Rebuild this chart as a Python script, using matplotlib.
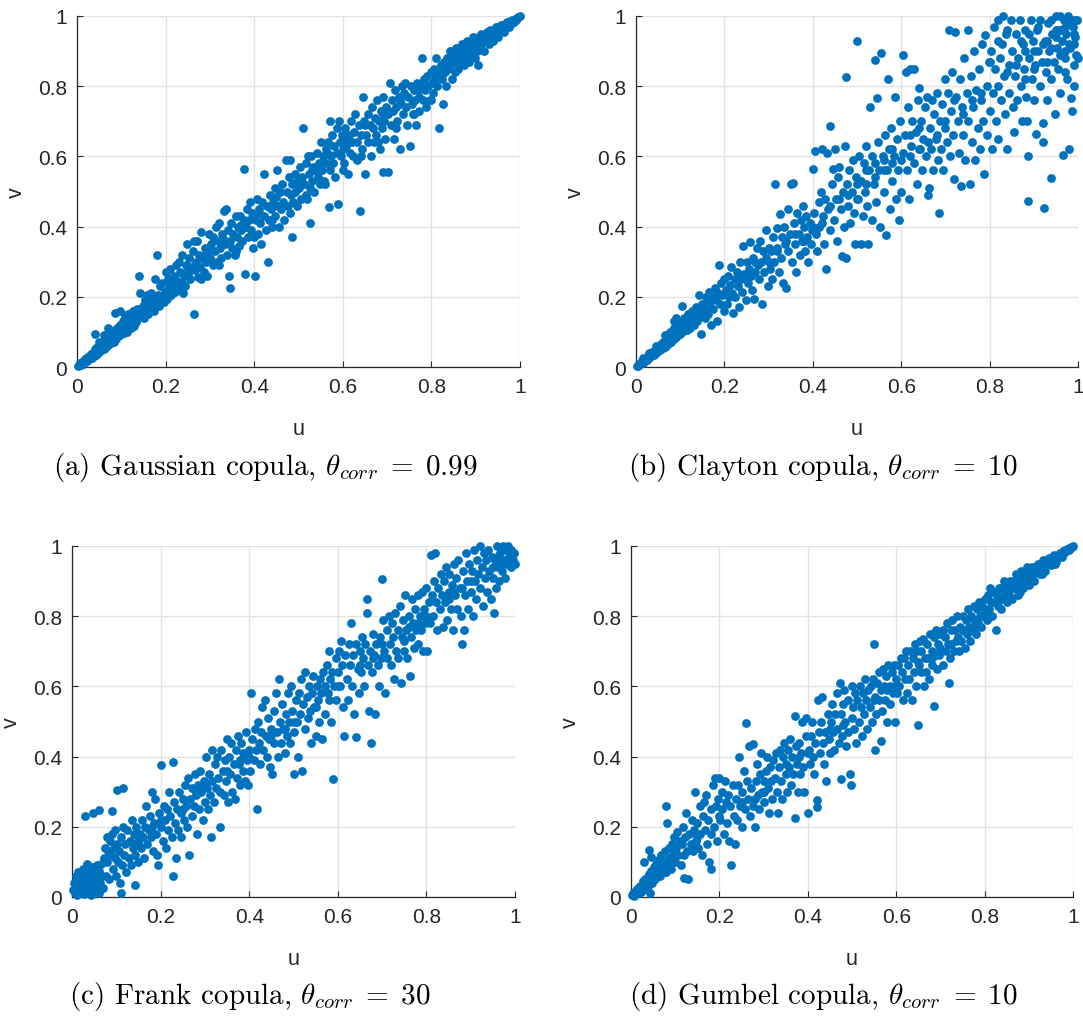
import numpy as np
import matplotlib
matplotlib.use('Agg')
import matplotlib.pyplot as plt

plt.rcParams['font.family'] = 'Liberation Sans'
plt.rcParams['mathtext.fontset'] = 'cm'

# (u, v) samples, one list per copula
gaussian_uv = [
    (0.003,0.004),(0.006,0.010),(0.008,0.005),(0.011,0.014),(0.013,0.009),(0.016,0.020),(0.018,0.013),(0.021,0.026),(0.023,0.017),(0.026,0.030),
    (0.028,0.022),(0.031,0.036),(0.033,0.025),(0.036,0.041),(0.038,0.030),(0.041,0.050),(0.043,0.035),(0.046,0.058),(0.048,0.040),(0.051,0.062),
    (0.053,0.046),(0.056,0.070),(0.058,0.050),(0.061,0.052),(0.063,0.075),(0.066,0.058),(0.068,0.083),(0.071,0.062),(0.073,0.090),(0.076,0.068),
    (0.078,0.078),(0.081,0.095),(0.083,0.072),(0.086,0.105),(0.088,0.080),(0.091,0.112),(0.093,0.088),(0.096,0.120),(0.098,0.092),(0.101,0.108),
    (0.040,0.095),(0.085,0.155),(0.097,0.160),(0.050,0.070),(0.070,0.110),(0.060,0.090),
    (0.103,0.130),(0.106,0.098),(0.108,0.145),(0.111,0.115),(0.113,0.100),(0.116,0.150),(0.118,0.125),(0.121,0.110),(0.123,0.138),(0.126,0.160),
    (0.128,0.118),(0.131,0.145),(0.133,0.128),(0.136,0.165),(0.138,0.140),(0.141,0.260),(0.143,0.210),(0.146,0.150),(0.148,0.175),(0.151,0.140),
    (0.153,0.190),(0.156,0.160),(0.158,0.205),(0.161,0.150),(0.163,0.180),(0.166,0.210),(0.168,0.170),(0.171,0.195),(0.173,0.160),(0.176,0.250),
    (0.178,0.185),(0.181,0.320),(0.183,0.205),(0.186,0.175),(0.188,0.230),(0.191,0.200),(0.193,0.240),(0.196,0.185),(0.198,0.215),(0.201,0.270),
    (0.203,0.195),(0.206,0.250),(0.208,0.225),(0.211,0.280),(0.213,0.205),(0.216,0.240),(0.218,0.260),(0.221,0.215),(0.223,0.290),(0.226,0.245),
    (0.228,0.225),(0.231,0.300),(0.233,0.270),(0.236,0.240),(0.238,0.320),(0.241,0.260),(0.243,0.230),(0.246,0.290),(0.248,0.350),(0.251,0.265),
    (0.253,0.310),(0.256,0.250),(0.258,0.285),(0.261,0.330),(0.263,0.360),(0.265,0.150),(0.266,0.275),(0.268,0.300),(0.271,0.360),(0.273,0.255),
    (0.276,0.320),(0.278,0.285),(0.281,0.385),(0.283,0.310),(0.286,0.270),(0.288,0.340),(0.291,0.300),(0.293,0.260),(0.296,0.330),(0.298,0.380),
    (0.301,0.310),(0.303,0.350),(0.306,0.290),(0.308,0.370),(0.311,0.330),(0.313,0.400),(0.316,0.300),(0.318,0.360),(0.321,0.410),(0.323,0.340),
    (0.326,0.310),(0.328,0.380),(0.331,0.445),(0.333,0.350),(0.336,0.450),(0.338,0.320),(0.341,0.390),(0.343,0.260),(0.345,0.225),(0.346,0.360),
    (0.348,0.410),(0.351,0.340),(0.353,0.380),(0.356,0.320),(0.358,0.430),(0.361,0.370),(0.363,0.400),(0.366,0.345),(0.368,0.430),(0.371,0.390),
    (0.373,0.360),(0.376,0.420),(0.378,0.565),(0.380,0.265),(0.381,0.400),(0.383,0.450),(0.386,0.370),(0.388,0.420),(0.391,0.470),(0.393,0.390),
    (0.396,0.440),(0.398,0.340),(0.401,0.260),(0.403,0.420),(0.406,0.480),(0.408,0.380),(0.411,0.450),(0.413,0.410),(0.416,0.350),(0.418,0.470),
    (0.421,0.430),(0.423,0.550),(0.426,0.390),(0.428,0.460),(0.431,0.300),(0.433,0.420),(0.436,0.490),(0.438,0.450),(0.441,0.400),(0.443,0.470),
    (0.446,0.510),(0.448,0.430),(0.451,0.560),(0.453,0.460),(0.456,0.400),(0.458,0.500),(0.461,0.450),(0.463,0.520),(0.466,0.470),(0.468,0.420),
    (0.471,0.590),(0.473,0.500),(0.476,0.460),(0.478,0.540),(0.481,0.590),(0.483,0.490),(0.485,0.370),(0.486,0.520),(0.488,0.470),(0.491,0.550),
    (0.493,0.500),(0.496,0.460),(0.498,0.530),(0.501,0.510),(0.503,0.570),(0.506,0.480),(0.508,0.540),(0.511,0.680),(0.513,0.520),(0.516,0.580),
    (0.518,0.490),(0.521,0.600),(0.523,0.550),(0.525,0.410),(0.526,0.510),(0.528,0.600),(0.531,0.530),(0.533,0.570),(0.536,0.500),(0.538,0.560),
    (0.541,0.610),(0.543,0.540),(0.546,0.580),(0.548,0.520),(0.551,0.640),(0.553,0.560),(0.556,0.600),(0.558,0.530),(0.561,0.620),(0.563,0.580),
    (0.566,0.640),(0.568,0.455),(0.570,0.700),(0.571,0.560),(0.573,0.600),(0.576,0.660),(0.578,0.580),(0.581,0.630),(0.583,0.540),(0.586,0.680),
    (0.588,0.610),(0.590,0.465),(0.591,0.700),(0.593,0.640),(0.596,0.600),(0.598,0.660),(0.601,0.620),(0.603,0.580),(0.606,0.680),(0.608,0.630),
    (0.611,0.550),(0.613,0.660),(0.616,0.610),(0.618,0.700),(0.621,0.640),(0.623,0.600),(0.626,0.670),(0.628,0.720),(0.631,0.640),(0.633,0.590),
    (0.636,0.690),(0.638,0.445),(0.641,0.660),(0.643,0.620),(0.646,0.770),(0.648,0.700),(0.651,0.550),(0.653,0.660),(0.656,0.720),(0.658,0.640),
    (0.661,0.690),(0.663,0.600),(0.666,0.740),(0.668,0.680),(0.671,0.640),(0.673,0.710),(0.676,0.660),(0.678,0.760),(0.681,0.700),(0.683,0.620),
    (0.686,0.730),(0.688,0.680),(0.690,0.555),(0.691,0.770),(0.693,0.700),(0.696,0.650),(0.698,0.740),(0.701,0.555),(0.703,0.720),(0.706,0.810),
    (0.708,0.690),(0.711,0.760),(0.713,0.730),(0.716,0.650),(0.718,0.790),(0.721,0.740),(0.723,0.700),(0.726,0.770),(0.728,0.620),(0.731,0.750),
    (0.733,0.800),(0.736,0.720),(0.738,0.780),(0.741,0.810),(0.743,0.740),(0.746,0.690),(0.748,0.770),(0.751,0.630),(0.753,0.800),(0.756,0.750),
    (0.758,0.720),(0.761,0.790),(0.763,0.760),(0.766,0.690),(0.768,0.810),(0.771,0.770),(0.773,0.730),(0.776,0.800),(0.778,0.880),(0.781,0.760),
    (0.783,0.820),(0.786,0.790),(0.788,0.740),(0.791,0.830),(0.793,0.800),(0.796,0.760),(0.798,0.840),(0.801,0.810),(0.803,0.780),(0.806,0.850),
    (0.808,0.820),(0.811,0.880),(0.813,0.800),(0.816,0.840),(0.818,0.680),(0.821,0.860),(0.823,0.820),(0.826,0.750),(0.828,0.870),(0.831,0.840),
    (0.833,0.800),(0.836,0.880),(0.838,0.850),(0.841,0.900),(0.843,0.860),(0.846,0.820),(0.848,0.890),(0.851,0.870),(0.853,0.840),(0.856,0.910),
    (0.858,0.880),(0.861,0.850),(0.863,0.900),(0.866,0.870),(0.868,0.920),(0.871,0.890),(0.873,0.860),(0.876,0.910),(0.878,0.880),(0.881,0.930),
    (0.883,0.900),(0.886,0.870),(0.888,0.920),(0.891,0.890),(0.893,0.940),(0.896,0.910),(0.898,0.880),(0.901,0.930),(0.903,0.900),(0.906,0.860),
    (0.908,0.940),(0.911,0.920),(0.913,0.950),(0.916,0.930),(0.918,0.900),(0.921,0.945),(0.923,0.930),(0.926,0.955),(0.928,0.935),(0.931,0.920),
    (0.933,0.960),(0.936,0.945),(0.938,0.930),(0.941,0.960),(0.943,0.950),(0.946,0.970),(0.948,0.950),(0.951,0.940),(0.953,0.970),(0.956,0.960),
    (0.958,0.975),(0.961,0.965),(0.963,0.955),(0.966,0.978),(0.968,0.970),(0.971,0.982),(0.973,0.975),(0.976,0.968),(0.978,0.985),(0.981,0.980),
    (0.983,0.988),(0.986,0.984),(0.988,0.992),(0.991,0.990),(0.993,0.994),(0.996,0.996),(0.999,0.999),
    (0.210,0.235),(0.250,0.275),(0.290,0.320),(0.330,0.365),(0.370,0.405),(0.410,0.440),(0.450,0.485),(0.490,0.525),(0.530,0.560),(0.570,0.605),
    (0.610,0.650),(0.650,0.690),(0.690,0.720),(0.730,0.760),(0.770,0.790),(0.240,0.210),(0.280,0.250),(0.320,0.290),(0.360,0.330),(0.400,0.370),
    (0.440,0.420),(0.480,0.440),(0.520,0.480),(0.560,0.520),(0.600,0.560),(0.640,0.600),(0.680,0.640),(0.720,0.680),(0.760,0.720),(0.800,0.760),
]

clayton_uv = [
    (0.002,0.003),(0.005,0.004),(0.007,0.009),(0.010,0.008),(0.012,0.014),(0.015,0.012),(0.017,0.020),(0.020,0.017),(0.022,0.026),(0.025,0.021),
    (0.027,0.030),(0.030,0.026),(0.032,0.036),(0.035,0.030),(0.037,0.043),(0.040,0.034),(0.042,0.048),(0.045,0.040),(0.047,0.055),(0.050,0.045),
    (0.052,0.060),(0.055,0.048),(0.057,0.066),(0.060,0.053),(0.062,0.072),(0.065,0.058),(0.067,0.080),(0.070,0.062),(0.072,0.090),(0.075,0.068),
    (0.077,0.100),(0.080,0.072),(0.082,0.092),(0.085,0.080),(0.087,0.110),(0.090,0.085),(0.092,0.125),(0.095,0.090),(0.097,0.105),(0.100,0.095),
    (0.105,0.175),(0.090,0.140),(0.085,0.130),(0.065,0.090),(0.045,0.060),(0.030,0.040),(0.015,0.025),
    (0.102,0.120),(0.105,0.100),(0.108,0.140),(0.110,0.115),(0.113,0.130),(0.116,0.105),(0.118,0.150),(0.121,0.125),(0.123,0.110),(0.126,0.160),
    (0.128,0.135),(0.131,0.120),(0.133,0.150),(0.136,0.170),(0.138,0.130),(0.141,0.160),(0.143,0.205),(0.146,0.145),(0.148,0.095),(0.150,0.180),
    (0.153,0.160),(0.155,0.140),(0.158,0.200),(0.160,0.170),(0.163,0.150),(0.165,0.215),(0.168,0.185),(0.170,0.120),(0.173,0.200),(0.175,0.165),
    (0.178,0.225),(0.180,0.190),(0.183,0.130),(0.185,0.210),(0.188,0.290),(0.190,0.180),(0.193,0.240),(0.195,0.205),(0.198,0.160),(0.200,0.250),
    (0.203,0.220),(0.205,0.180),(0.208,0.260),(0.210,0.200),(0.213,0.235),(0.215,0.285),(0.218,0.210),(0.220,0.155),(0.223,0.250),(0.225,0.200),
    (0.228,0.270),(0.230,0.230),(0.233,0.170),(0.235,0.300),(0.238,0.250),(0.240,0.215),(0.243,0.345),(0.245,0.265),(0.248,0.190),(0.250,0.300),
    (0.253,0.240),(0.255,0.280),(0.258,0.355),(0.260,0.260),(0.263,0.220),(0.265,0.310),(0.268,0.195),(0.270,0.270),(0.273,0.340),(0.275,0.290),
    (0.278,0.250),(0.280,0.360),(0.283,0.300),(0.285,0.180),(0.288,0.330),(0.290,0.270),(0.293,0.390),(0.295,0.310),(0.298,0.230),(0.300,0.340),
    (0.303,0.280),(0.305,0.330),(0.308,0.250),(0.310,0.370),(0.313,0.300),(0.315,0.520),(0.318,0.395),(0.320,0.340),(0.323,0.270),(0.325,0.435),
    (0.328,0.310),(0.330,0.370),(0.333,0.240),(0.335,0.400),(0.338,0.350),(0.340,0.225),(0.343,0.450),(0.345,0.330),(0.348,0.380),(0.350,0.520),
    (0.353,0.300),(0.355,0.525),(0.358,0.410),(0.360,0.350),(0.363,0.270),(0.365,0.440),(0.368,0.380),(0.370,0.320),(0.373,0.420),(0.375,0.360),
    (0.378,0.460),(0.380,0.400),(0.383,0.330),(0.385,0.430),(0.388,0.370),(0.390,0.300),(0.393,0.410),(0.395,0.350),(0.398,0.390),(0.400,0.565),
    (0.403,0.440),(0.405,0.614),(0.408,0.380),(0.410,0.330),(0.413,0.470),(0.415,0.400),(0.418,0.500),(0.420,0.620),(0.423,0.430),(0.425,0.350),
    (0.428,0.480),(0.430,0.278),(0.432,0.610),(0.435,0.450),(0.438,0.390),(0.440,0.688),(0.443,0.520),(0.445,0.565),(0.448,0.420),(0.450,0.620),
    (0.453,0.480),(0.455,0.360),(0.458,0.540),(0.460,0.570),(0.463,0.450),(0.465,0.315),(0.468,0.500),(0.470,0.400),(0.473,0.630),(0.475,0.827),
    (0.476,0.310),(0.478,0.520),(0.480,0.460),(0.483,0.560),(0.485,0.410),(0.488,0.500),(0.490,0.590),(0.493,0.440),(0.495,0.350),(0.498,0.540),
    (0.501,0.928),(0.503,0.480),(0.505,0.600),(0.508,0.350),(0.510,0.530),(0.513,0.430),(0.515,0.580),(0.518,0.500),(0.520,0.630),(0.523,0.460),
    (0.525,0.350),(0.528,0.560),(0.530,0.740),(0.533,0.420),(0.535,0.600),(0.538,0.520),(0.540,0.875),(0.543,0.470),(0.545,0.765),(0.548,0.640),
    (0.550,0.560),(0.553,0.400),(0.555,0.895),(0.558,0.600),(0.560,0.500),(0.563,0.660),(0.565,0.375),(0.568,0.560),(0.570,0.820),(0.573,0.620),
    (0.575,0.450),(0.578,0.680),(0.580,0.530),(0.583,0.600),(0.585,0.770),(0.588,0.480),(0.590,0.650),(0.593,0.560),(0.595,0.420),(0.598,0.700),
    (0.600,0.500),(0.603,0.610),(0.605,0.890),(0.608,0.660),(0.610,0.840),(0.613,0.560),(0.615,0.740),(0.618,0.480),(0.620,0.850),(0.623,0.630),
    (0.625,0.700),(0.628,0.580),(0.630,0.850),(0.633,0.670),(0.635,0.520),(0.638,0.760),(0.640,0.795),(0.643,0.620),(0.645,0.700),(0.648,0.560),
    (0.650,0.650),(0.653,0.740),(0.655,0.600),(0.658,0.770),(0.660,0.490),(0.662,0.510),(0.665,0.680),(0.668,0.620),(0.670,0.760),(0.673,0.560),
    (0.675,0.720),(0.678,0.650),(0.680,0.780),(0.683,0.590),(0.685,0.440),(0.688,0.700),(0.690,0.620),(0.693,0.750),(0.695,0.560),(0.698,0.680),
    (0.700,0.820),(0.703,0.640),(0.705,0.780),(0.708,0.960),(0.710,0.600),(0.713,0.730),(0.715,0.840),(0.718,0.660),(0.720,0.535),(0.722,0.955),
    (0.725,0.770),(0.728,0.700),(0.730,0.610),(0.733,0.820),(0.735,0.515),(0.738,0.740),(0.740,0.660),(0.743,0.880),(0.745,0.590),(0.748,0.780),
    (0.750,0.700),(0.752,0.960),(0.755,0.520),(0.758,0.830),(0.760,0.640),(0.763,0.740),(0.765,0.900),(0.768,0.590),(0.770,0.790),(0.773,0.680),
    (0.775,0.850),(0.778,0.620),(0.780,0.760),(0.783,0.920),(0.785,0.700),(0.788,0.550),(0.790,0.945),(0.793,0.800),(0.795,0.660),(0.798,0.870),
    (0.800,0.730),(0.803,0.900),(0.805,0.620),(0.808,0.780),(0.810,0.970),(0.813,0.850),(0.815,0.700),(0.818,0.990),(0.820,0.650),(0.823,0.880),
    (0.825,0.760),(0.828,0.920),(0.830,1.000),(0.833,0.830),(0.835,0.720),(0.838,0.950),(0.840,0.620),(0.843,0.860),(0.845,0.780),(0.848,0.990),
    (0.850,0.900),(0.853,0.740),(0.855,0.670),(0.858,0.830),(0.860,0.950),(0.863,0.760),(0.865,0.880),(0.868,0.990),(0.870,0.800),(0.873,0.700),
    (0.875,0.920),(0.878,0.850),(0.880,0.960),(0.883,0.770),(0.885,0.700),(0.886,0.600),(0.888,0.472),(0.890,0.880),(0.893,0.990),(0.895,0.820),
    (0.898,0.930),(0.900,0.760),(0.903,0.860),(0.905,0.665),(0.908,0.960),(0.910,0.900),(0.913,0.800),(0.915,0.990),(0.918,0.870),(0.920,0.695),
    (0.921,0.640),(0.923,0.453),(0.925,0.930),(0.928,0.840),(0.930,0.760),(0.933,0.980),(0.935,0.900),(0.938,0.820),(0.940,0.538),(0.942,0.950),
    (0.945,0.870),(0.948,0.720),(0.950,1.000),(0.953,0.910),(0.955,0.850),(0.958,0.960),(0.960,0.780),(0.963,0.930),(0.965,0.605),(0.968,0.990),
    (0.970,0.880),(0.973,0.950),(0.975,0.820),(0.978,1.000),(0.980,0.620),(0.982,0.910),(0.985,0.765),(0.986,0.730),(0.988,0.970),(0.990,0.860),
    (0.993,0.940),(0.995,0.890),(0.998,0.990),
    (0.870,0.930),(0.890,0.950),(0.910,0.970),(0.930,0.930),(0.950,0.960),(0.970,0.970),(0.990,0.950),(0.960,0.890),(0.980,0.920),(0.920,0.920),
    (0.940,0.990),(0.860,0.860),(0.840,0.840),(0.820,0.800),(0.880,0.820),(0.900,0.850),(0.970,0.840),(0.990,0.800),(1.000,0.880),(0.960,1.000),
    (0.840,0.960),(0.820,0.930),(0.800,0.870),(0.780,0.780),(0.760,0.760),(0.740,0.720),(0.720,0.760),(0.700,0.700),(0.680,0.660),(0.660,0.640),
    (0.640,0.620),(0.620,0.600),(0.580,0.580),(0.560,0.560),(0.540,0.540),(0.520,0.520),(0.500,0.480),
    (0.250,0.250),(0.270,0.300),(0.300,0.300),(0.320,0.330),(0.340,0.360),(0.360,0.380),(0.380,0.360),(0.400,0.400),(0.420,0.410),(0.440,0.460),
    (0.460,0.480),(0.480,0.490),(0.500,0.520),(0.520,0.560),(0.540,0.580),(0.560,0.590),(0.580,0.620),(0.600,0.590),(0.620,0.660),(0.640,0.680),
    (0.950,0.940),(0.960,0.960),(0.980,0.980),(0.990,0.990),(0.940,0.910),(0.900,0.900),(0.880,0.900),(0.930,0.870),(0.970,0.900),(0.990,0.920),
]

frank_uv = [
    (0.002,0.020),(0.004,0.040),(0.006,0.010),(0.008,0.060),(0.010,0.030),(0.012,0.005),(0.014,0.070),(0.016,0.045),(0.018,0.015),(0.020,0.055),
    (0.022,0.025),(0.024,0.080),(0.026,0.040),(0.028,0.008),(0.030,0.060),(0.032,0.030),(0.034,0.095),(0.036,0.050),(0.038,0.015),(0.040,0.070),
    (0.042,0.035),(0.044,0.005),(0.046,0.085),(0.048,0.045),(0.050,0.020),(0.052,0.065),(0.054,0.030),(0.056,0.090),(0.058,0.050),(0.060,0.010),
    (0.062,0.075),(0.064,0.040),(0.066,0.095),(0.068,0.060),(0.070,0.025),(0.030,0.230),(0.047,0.240),(0.060,0.248),(0.090,0.245),(0.101,0.305),
    (0.115,0.310),(0.110,0.010),(0.142,0.035),
    (0.072,0.110),(0.074,0.140),(0.076,0.060),(0.078,0.170),(0.080,0.100),(0.082,0.130),(0.084,0.050),(0.086,0.160),(0.088,0.120),(0.090,0.180),
    (0.092,0.080),(0.094,0.140),(0.096,0.110),(0.098,0.190),(0.100,0.060),(0.102,0.150),(0.104,0.100),(0.106,0.130),(0.108,0.040),(0.110,0.170),
    (0.112,0.090),(0.115,0.200),(0.118,0.120),(0.120,0.150),(0.122,0.070),(0.125,0.190),(0.128,0.110),(0.130,0.160),(0.133,0.090),(0.135,0.220),
    (0.138,0.140),(0.140,0.180),(0.143,0.120),(0.145,0.200),(0.148,0.150),(0.150,0.100),(0.153,0.180),(0.155,0.140),(0.158,0.220),(0.160,0.170),
    (0.163,0.110),(0.165,0.200),(0.168,0.260),(0.170,0.150),(0.173,0.190),(0.175,0.230),(0.178,0.170),(0.180,0.300),(0.183,0.130),(0.185,0.210),
    (0.188,0.280),(0.190,0.180),(0.193,0.120),(0.195,0.090),(0.197,0.240),(0.200,0.375),
    (0.202,0.200),(0.205,0.160),(0.207,0.260),(0.210,0.220),(0.212,0.140),(0.215,0.250),(0.217,0.190),(0.220,0.300),(0.222,0.230),(0.225,0.170),
    (0.228,0.385),(0.229,0.060),(0.230,0.270),(0.232,0.210),(0.235,0.110),(0.237,0.250),(0.240,0.190),(0.242,0.300),(0.245,0.240),(0.247,0.170),
    (0.250,0.280),(0.252,0.220),(0.255,0.320),(0.257,0.260),(0.260,0.200),(0.262,0.340),(0.265,0.120),(0.267,0.280),(0.270,0.230),(0.272,0.310),
    (0.275,0.260),(0.277,0.350),(0.280,0.290),(0.282,0.180),(0.285,0.320),(0.287,0.250),(0.290,0.360),(0.292,0.300),(0.295,0.220),(0.297,0.330),
    (0.300,0.270),(0.302,0.400),(0.305,0.310),(0.307,0.250),(0.310,0.350),(0.312,0.290),(0.314,0.170),(0.315,0.420),(0.317,0.330),(0.320,0.270),
    (0.322,0.380),(0.325,0.310),(0.327,0.400),(0.330,0.340),(0.333,0.200),(0.335,0.300),(0.337,0.420),(0.340,0.360),(0.342,0.290),(0.345,0.390),
    (0.347,0.330),(0.350,0.450),(0.352,0.270),(0.355,0.400),(0.357,0.350),(0.360,0.440),(0.362,0.300),(0.365,0.380),(0.367,0.280),(0.370,0.420),
    (0.372,0.340),(0.375,0.460),(0.377,0.380),(0.380,0.320),(0.382,0.440),(0.385,0.360),(0.387,0.410),(0.390,0.330),(0.392,0.470),(0.395,0.390),
    (0.397,0.320),(0.400,0.420),(0.402,0.360),(0.405,0.580),(0.407,0.450),(0.410,0.390),(0.412,0.480),(0.415,0.420),(0.418,0.250),(0.420,0.500),
    (0.422,0.440),(0.425,0.380),(0.427,0.470),(0.430,0.540),(0.432,0.420),(0.435,0.560),(0.437,0.460),(0.440,0.400),(0.442,0.510),(0.445,0.450),
    (0.447,0.370),(0.450,0.480),(0.452,0.350),(0.455,0.530),(0.457,0.440),(0.460,0.580),(0.462,0.470),(0.465,0.400),(0.467,0.620),(0.470,0.500),
    (0.472,0.440),(0.475,0.550),(0.477,0.480),(0.480,0.410),(0.482,0.520),(0.485,0.460),(0.487,0.580),(0.490,0.500),(0.492,0.440),(0.495,0.600),
    (0.497,0.530),(0.500,0.350),(0.502,0.470),(0.505,0.560),(0.507,0.500),(0.510,0.400),(0.512,0.580),(0.515,0.520),(0.518,0.620),(0.520,0.360),
    (0.522,0.550),(0.525,0.480),(0.527,0.640),(0.530,0.570),(0.532,0.510),(0.535,0.600),(0.537,0.530),(0.540,0.440),(0.542,0.580),(0.545,0.630),
    (0.547,0.540),(0.550,0.460),(0.552,0.600),(0.555,0.560),(0.557,0.500),(0.560,0.620),(0.562,0.580),(0.565,0.450),(0.567,0.640),(0.570,0.600),
    (0.572,0.520),(0.575,0.660),(0.577,0.580),(0.580,0.700),(0.582,0.620),(0.585,0.500),(0.587,0.640),(0.590,0.335),(0.592,0.600),(0.595,0.680),
    (0.597,0.560),(0.600,0.640),(0.602,0.700),(0.605,0.600),(0.607,0.730),(0.610,0.660),(0.612,0.540),(0.615,0.460),(0.617,0.690),(0.620,0.620),
    (0.622,0.560),(0.625,0.720),(0.627,0.660),(0.630,0.780),(0.632,0.600),(0.635,0.690),(0.637,0.520),(0.640,0.455),(0.642,0.720),(0.645,0.650),
    (0.647,0.580),(0.650,0.700),(0.652,0.640),(0.655,0.740),(0.657,0.680),(0.660,0.600),(0.662,0.720),(0.665,0.850),(0.666,0.810),(0.668,0.660),
    (0.670,0.530),(0.672,0.700),(0.675,0.440),(0.677,0.640),(0.680,0.750),(0.682,0.690),(0.685,0.520),(0.687,0.720),(0.690,0.660),(0.692,0.600),
    (0.695,0.740),(0.697,0.680),(0.700,0.905),(0.702,0.790),(0.705,0.700),(0.707,0.580),(0.710,0.760),(0.712,0.680),(0.715,0.800),(0.717,0.720),
    (0.720,0.660),(0.722,0.780),(0.725,0.740),(0.727,0.620),(0.730,0.810),(0.732,0.700),(0.735,0.760),(0.737,0.680),(0.740,0.830),(0.742,0.610),
    (0.745,0.740),(0.747,0.790),(0.750,0.700),(0.752,0.860),(0.755,0.760),(0.757,0.680),(0.760,0.800),(0.762,0.630),(0.765,0.740),(0.767,0.850),
    (0.770,0.780),(0.772,0.710),(0.775,0.820),(0.777,0.760),(0.780,0.860),(0.782,0.720),(0.785,0.800),(0.787,0.760),(0.790,0.870),(0.792,0.700),
    (0.795,0.820),(0.797,0.780),(0.800,0.880),(0.802,0.700),(0.805,0.840),(0.807,0.780),(0.810,0.975),(0.812,0.860),(0.815,0.800),(0.817,0.900),
    (0.820,0.980),(0.822,0.840),(0.825,0.760),(0.827,0.880),(0.830,0.820),(0.832,0.920),(0.835,0.860),(0.837,0.770),(0.840,0.900),(0.842,0.840),
    (0.845,0.940),(0.847,0.790),(0.850,0.870),(0.852,0.920),(0.855,0.820),(0.857,0.890),(0.860,0.760),(0.862,0.950),(0.865,0.860),(0.867,0.910),
    (0.870,0.820),(0.872,0.960),(0.875,0.880),(0.877,0.800),(0.880,0.720),(0.882,0.930),(0.885,0.760),(0.887,0.860),(0.890,0.980),(0.892,0.900),
    (0.895,0.820),(0.897,0.950),(0.900,0.870),(0.902,0.930),(0.905,0.800),(0.907,0.990),(0.910,0.900),(0.912,0.850),(0.915,0.960),(0.917,0.920),
    (0.920,1.000),(0.922,0.880),(0.925,0.940),(0.927,0.830),(0.930,0.980),(0.932,0.910),(0.935,0.960),(0.937,0.870),(0.940,0.990),(0.942,0.930),
    (0.945,0.850),(0.947,0.970),(0.950,0.910),(0.952,0.810),(0.955,0.960),(0.957,0.880),(0.960,1.000),(0.962,0.940),(0.965,0.900),(0.967,0.980),
    (0.970,0.930),(0.972,1.000),(0.975,0.960),(0.977,0.910),(0.980,0.990),(0.982,0.950),(0.985,1.000),(0.987,0.970),(0.990,0.940),(0.992,0.990),
    (0.995,0.960),(0.997,0.980),(0.999,0.950),
    (0.150,0.160),(0.200,0.220),(0.250,0.250),(0.300,0.320),(0.350,0.360),(0.400,0.400),(0.450,0.460),(0.500,0.500),(0.550,0.540),(0.600,0.600),
    (0.650,0.660),(0.700,0.720),(0.750,0.730),(0.800,0.800),(0.850,0.850),(0.900,0.900),(0.950,0.940),(0.180,0.200),(0.280,0.300),(0.380,0.390),
    (0.480,0.480),(0.580,0.560),(0.680,0.680),(0.780,0.780),(0.880,0.880),(0.960,0.970),(0.990,0.975),(0.970,0.950),(0.860,0.870),(0.760,0.770),
]

gumbel_uv = [
    (0.002,0.005),(0.004,0.012),(0.006,0.004),(0.008,0.015),(0.010,0.008),(0.012,0.020),(0.014,0.010),(0.016,0.025),(0.018,0.012),(0.020,0.030),
    (0.022,0.015),(0.024,0.035),(0.026,0.020),(0.028,0.045),(0.030,0.022),(0.032,0.050),(0.034,0.028),(0.036,0.055),(0.038,0.030),(0.040,0.065),
    (0.042,0.010),(0.044,0.050),(0.046,0.075),(0.048,0.040),(0.050,0.060),(0.030,0.100),(0.040,0.135),(0.045,0.115),
    (0.052,0.085),(0.055,0.050),(0.057,0.095),(0.060,0.070),(0.062,0.105),(0.065,0.060),(0.067,0.120),(0.070,0.085),(0.072,0.100),(0.075,0.070),
    (0.077,0.130),(0.080,0.260),(0.081,0.210),(0.082,0.095),(0.085,0.140),(0.087,0.110),(0.090,0.080),(0.092,0.150),(0.095,0.120),(0.097,0.170),
    (0.100,0.100),(0.102,0.140),(0.105,0.185),(0.107,0.120),(0.110,0.160),(0.112,0.090),(0.115,0.150),(0.117,0.200),(0.120,0.055),(0.122,0.170),
    (0.125,0.240),(0.127,0.130),(0.130,0.050),(0.132,0.180),(0.135,0.150),(0.137,0.220),(0.140,0.130),(0.142,0.190),(0.145,0.300),(0.147,0.160),
    (0.150,0.210),(0.152,0.140),(0.155,0.260),(0.157,0.180),(0.160,0.120),(0.162,0.230),(0.165,0.270),(0.167,0.190),(0.170,0.290),(0.172,0.150),
    (0.175,0.220),(0.177,0.100),(0.180,0.250),(0.182,0.080),(0.185,0.320),(0.187,0.200),(0.190,0.340),(0.192,0.260),(0.195,0.160),(0.197,0.280),
    (0.200,0.340),(0.202,0.220),(0.205,0.300),(0.207,0.250),(0.210,0.180),(0.212,0.330),(0.215,0.270),(0.217,0.210),(0.220,0.290),(0.222,0.160),
    (0.225,0.260),(0.227,0.090),(0.230,0.320),(0.232,0.230),(0.235,0.150),(0.237,0.280),(0.240,0.220),(0.242,0.320),(0.245,0.400),(0.247,0.260),
    (0.250,0.200),(0.252,0.300),(0.255,0.360),(0.257,0.250),(0.260,0.495),(0.262,0.330),(0.265,0.280),(0.267,0.430),(0.270,0.230),(0.272,0.310),
    (0.275,0.435),(0.277,0.260),(0.280,0.200),(0.282,0.330),(0.285,0.380),(0.287,0.290),(0.290,0.250),(0.292,0.350),(0.295,0.410),(0.297,0.300),
    (0.300,0.330),(0.302,0.270),(0.305,0.360),(0.307,0.400),(0.310,0.310),(0.312,0.240),(0.315,0.370),(0.317,0.330),(0.320,0.280),(0.322,0.390),
    (0.325,0.340),(0.327,0.410),(0.330,0.300),(0.332,0.240),(0.335,0.370),(0.337,0.420),(0.340,0.330),(0.342,0.280),(0.345,0.400),(0.347,0.440),
    (0.350,0.350),(0.352,0.300),(0.355,0.420),(0.357,0.370),(0.360,0.450),(0.362,0.320),(0.365,0.400),(0.367,0.350),(0.370,0.225),(0.371,0.515),
    (0.373,0.430),(0.375,0.380),(0.377,0.300),(0.380,0.440),(0.382,0.350),(0.385,0.410),(0.387,0.500),(0.390,0.370),(0.392,0.300),(0.395,0.460),
    (0.397,0.510),(0.400,0.240),(0.402,0.420),(0.405,0.380),(0.407,0.460),(0.410,0.500),(0.412,0.400),(0.415,0.350),(0.417,0.440),(0.420,0.255),
    (0.421,0.275),(0.422,0.560),(0.425,0.470),(0.427,0.410),(0.430,0.500),(0.432,0.570),(0.435,0.440),(0.437,0.380),(0.440,0.470),(0.442,0.330),
    (0.445,0.520),(0.447,0.450),(0.450,0.410),(0.452,0.500),(0.455,0.550),(0.457,0.470),(0.460,0.420),(0.462,0.520),(0.465,0.580),(0.467,0.480),
    (0.470,0.440),(0.472,0.610),(0.475,0.335),(0.476,0.520),(0.478,0.460),(0.480,0.550),(0.482,0.590),(0.485,0.500),(0.487,0.430),(0.490,0.560),
    (0.492,0.470),(0.495,0.350),(0.497,0.320),(0.500,0.600),(0.502,0.540),(0.505,0.480),(0.507,0.580),(0.510,0.440),(0.512,0.560),(0.515,0.500),
    (0.517,0.600),(0.520,0.540),(0.522,0.460),(0.525,0.580),(0.527,0.520),(0.530,0.620),(0.532,0.560),(0.535,0.480),(0.537,0.590),(0.540,0.540),
    (0.542,0.600),(0.545,0.500),(0.547,0.620),(0.550,0.720),(0.551,0.420),(0.552,0.570),(0.555,0.520),(0.557,0.610),(0.560,0.560),(0.562,0.640),
    (0.565,0.445),(0.566,0.590),(0.568,0.530),(0.570,0.650),(0.572,0.600),(0.575,0.560),(0.577,0.630),(0.580,0.500),(0.582,0.660),(0.585,0.600),
    (0.587,0.550),(0.590,0.640),(0.592,0.580),(0.595,0.660),(0.597,0.500),(0.600,0.620),(0.602,0.580),(0.605,0.660),(0.607,0.600),(0.610,0.680),
    (0.612,0.640),(0.615,0.560),(0.617,0.680),(0.620,0.620),(0.622,0.700),(0.625,0.580),(0.627,0.660),(0.630,0.620),(0.632,0.700),(0.635,0.560),
    (0.637,0.680),(0.640,0.640),(0.642,0.720),(0.645,0.600),(0.647,0.700),(0.650,0.490),(0.651,0.660),(0.653,0.730),(0.655,0.640),(0.657,0.700),
    (0.660,0.735),(0.662,0.600),(0.665,0.680),(0.667,0.640),(0.670,0.720),(0.672,0.680),(0.675,0.620),(0.677,0.750),(0.680,0.700),(0.682,0.660),
    (0.685,0.545),(0.686,0.740),(0.688,0.690),(0.690,0.760),(0.692,0.650),(0.695,0.720),(0.697,0.690),(0.700,0.750),(0.702,0.700),(0.705,0.760),
    (0.707,0.660),(0.710,0.740),(0.712,0.700),(0.715,0.780),(0.717,0.720),(0.720,0.610),(0.721,0.680),(0.723,0.760),(0.725,0.720),(0.727,0.790),
    (0.730,0.700),(0.732,0.760),(0.735,0.730),(0.737,0.800),(0.740,0.740),(0.742,0.700),(0.745,0.770),(0.747,0.730),(0.750,0.800),(0.752,0.760),
    (0.755,0.710),(0.757,0.790),(0.760,0.750),(0.762,0.820),(0.765,0.770),(0.767,0.730),(0.770,0.800),(0.772,0.760),(0.775,0.830),(0.777,0.790),
    (0.780,0.750),(0.782,0.820),(0.785,0.780),(0.787,0.840),(0.790,0.800),(0.792,0.770),(0.795,0.830),(0.797,0.800),(0.800,0.850),(0.802,0.820),
    (0.805,0.790),(0.807,0.860),(0.810,0.820),(0.812,0.880),(0.815,0.840),(0.817,0.800),(0.820,0.870),(0.822,0.840),(0.825,0.760),(0.827,0.860),
    (0.830,0.830),(0.832,0.880),(0.835,0.850),(0.837,0.820),(0.840,0.880),(0.842,0.850),(0.845,0.900),(0.847,0.870),(0.850,0.840),(0.852,0.890),
    (0.855,0.860),(0.857,0.900),(0.860,0.880),(0.862,0.850),(0.865,0.900),(0.867,0.880),(0.870,0.920),(0.872,0.890),(0.875,0.860),(0.877,0.910),
    (0.880,0.890),(0.882,0.930),(0.885,0.900),(0.887,0.880),(0.890,0.920),(0.892,0.900),(0.895,0.940),(0.897,0.910),(0.900,0.890),(0.902,0.930),
    (0.905,0.910),(0.907,0.940),(0.910,0.920),(0.912,0.900),(0.915,0.940),(0.917,0.930),(0.920,0.950),(0.922,0.930),(0.925,0.920),(0.927,0.950),
    (0.930,0.940),(0.932,0.960),(0.935,0.945),(0.937,0.930),(0.940,0.960),(0.942,0.950),(0.945,0.965),(0.947,0.955),(0.950,0.945),(0.952,0.970),
    (0.955,0.960),(0.957,0.975),(0.960,0.965),(0.962,0.955),(0.965,0.975),(0.967,0.970),(0.970,0.980),(0.972,0.975),(0.975,0.968),(0.977,0.985),
    (0.980,0.980),(0.982,0.988),(0.985,0.985),(0.987,0.992),(0.990,0.990),(0.992,0.995),(0.995,0.996),(0.997,0.998),(1.000,1.000),
    (0.150,0.170),(0.200,0.230),(0.250,0.270),(0.300,0.300),(0.350,0.380),(0.400,0.410),(0.450,0.480),(0.500,0.510),(0.550,0.560),(0.600,0.600),
    (0.650,0.670),(0.700,0.710),(0.750,0.760),(0.800,0.810),(0.850,0.870),(0.180,0.180),(0.280,0.280),(0.380,0.400),(0.480,0.490),(0.580,0.590),
    (0.680,0.680),(0.780,0.770),(0.880,0.870),(0.930,0.920),(0.960,0.950),(0.120,0.120),(0.100,0.120),(0.080,0.070),(0.060,0.080),(0.030,0.040),
]

captions = [
    r'(a) Gaussian copula, $\theta_{corr}\;=\;0.99$',
    r'(b) Clayton copula, $\theta_{corr}\;=\;10$',
    r'(c) Frank copula, $\theta_{corr}\;=\;30$',
    r'(d) Gumbel copula, $\theta_{corr}\;=\;10$',
]
tick_vals = [0, 0.2, 0.4, 0.6, 0.8, 1]
tick_labels = ['0', '0.2', '0.4', '0.6', '0.8', '1']

W, H = 1083, 1020
fig = plt.figure(figsize=(W / 100, H / 100), dpi=100)

# axes boxes in pixels: left, top, right, bottom
boxes = [(77, 17, 520, 368), (636, 17, 1078, 368), (72, 547, 515, 898), (631, 547, 1073, 898)]
cap_pos = [(265, 468), (823, 468), (250, 997), (823, 997)]
dot_col = '#0072BD'
axis_col = '#262626'

for data, box, cap, cpos in zip([gaussian_uv, clayton_uv, frank_uv, gumbel_uv], boxes, captions, cap_pos):
    l, t, r, b = box
    ax = fig.add_axes([l / W, 1 - b / H, (r - l) / W, (b - t) / H])
    pts = np.array(data)
    ax.scatter(pts[:, 0], pts[:, 1], s=40, color=dot_col, linewidths=0, clip_on=False, zorder=3)
    ax.set_xlim(0, 1)
    ax.set_ylim(0, 1)
    ax.set_xticks(tick_vals)
    ax.set_xticklabels(tick_labels)
    ax.set_yticks(tick_vals)
    ax.set_yticklabels(tick_labels)
    ax.grid(True, color='#e2e2e2', linewidth=1.0)
    ax.set_axisbelow(True)
    for side in ['top', 'right']:
        ax.spines[side].set_visible(False)
    for side in ['left', 'bottom']:
        ax.spines[side].set_color(axis_col)
        ax.spines[side].set_linewidth(0.9)
    ax.tick_params(direction='in', length=4, width=0.8, colors=axis_col, labelsize=15, pad=7)
    ax.set_xlabel('u', fontsize=15.5, color=axis_col, labelpad=16)
    ax.set_ylabel('v', fontsize=15.5, color=axis_col, labelpad=8)
    fig.text(cpos[0] / W, 1 - cpos[1] / H, cap, fontsize=21, family='cmr10', ha='center', va='center')

fig.savefig('out.png', dpi=100)
